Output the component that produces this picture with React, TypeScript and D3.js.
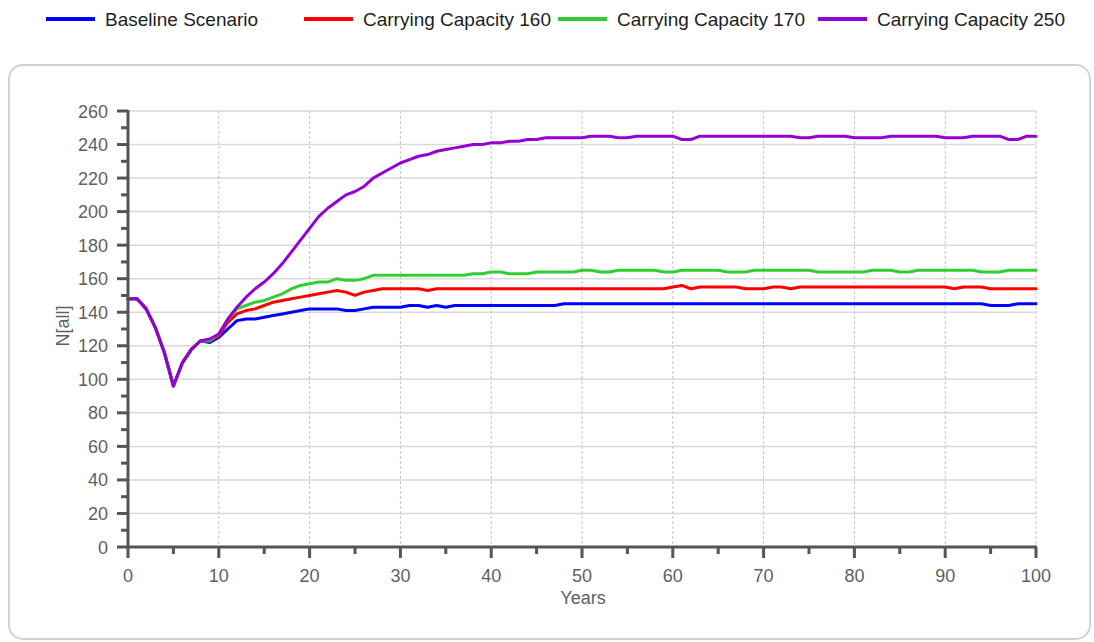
import React from 'react';
import * as d3 from 'd3';

// Simulation output: total population N[all] per year, 0..100
const baseline = [
  148,148,142,131,116,96,110,118,123,122,
  125,130,135,136,136,137,138,139,140,141,
  142,142,142,142,141,141,142,143,143,143,
  143,144,144,143,144,143,144,144,144,144,
  144,144,144,144,144,144,144,144,145,145,
  145,145,145,145,145,145,145,145,145,145,
  145,145,145,145,145,145,145,145,145,145,
  145,145,145,145,145,145,145,145,145,145,
  145,145,145,145,145,145,145,145,145,145,
  145,145,145,145,145,144,144,144,145,145,
  145,
];

const capacity160 = [
  148,148,142,131,116,96,110,118,123,123,
  126,134,139,141,142,144,146,147,148,149,
  150,151,152,153,152,150,152,153,154,154,
  154,154,154,153,154,154,154,154,154,154,
  154,154,154,154,154,154,154,154,154,154,
  154,154,154,154,154,154,154,154,154,154,
  155,156,154,155,155,155,155,155,154,154,
  154,155,155,154,155,155,155,155,155,155,
  155,155,155,155,155,155,155,155,155,155,
  155,154,155,155,155,154,154,154,154,154,
  154,
];

const capacity170 = [
  148,148,142,131,116,96,110,118,123,123,
  127,136,142,144,146,147,149,151,154,156,
  157,158,158,160,159,159,160,162,162,162,
  162,162,162,162,162,162,162,162,163,163,
  164,164,163,163,163,164,164,164,164,164,
  165,165,164,164,165,165,165,165,165,164,
  164,165,165,165,165,165,164,164,164,165,
  165,165,165,165,165,165,164,164,164,164,
  164,164,165,165,165,164,164,165,165,165,
  165,165,165,165,164,164,164,165,165,165,
  165,
];

const capacity250 = [
  148,148,142,131,116,96,110,118,123,124,
  127,136,143,149,154,158,163,169,176,183,
  190,197,202,206,210,212,215,220,223,226,
  229,231,233,234,236,237,238,239,240,240,
  241,241,242,242,243,243,244,244,244,244,
  244,245,245,245,244,244,245,245,245,245,
  245,243,243,245,245,245,245,245,245,245,
  245,245,245,245,244,244,245,245,245,245,
  244,244,244,244,245,245,245,245,245,245,
  244,244,244,245,245,245,245,243,243,245,
  245,
];

const seriesNames = ['Baseline Scenario', 'Carrying Capacity 160', 'Carrying Capacity 170', 'Carrying Capacity 250'];
const seriesColors = ['#0000ff', '#ff0000', '#32cd32', '#9400d3'];
const seriesValues = [baseline, capacity160, capacity170, capacity250];

const xTicks = [0, 10, 20, 30, 40, 50, 60, 70, 80, 90, 100];
const yTicks = [0, 20, 40, 60, 80, 100, 120, 140, 160, 180, 200, 220, 240, 260];

const legendLineX = [46, 304, 558, 818];

export default function App() {
  const x = d3.scaleLinear().domain([0, 100]).range([128, 1036]);
  const y = d3.scaleLinear().domain([0, 260]).range([547, 111]);

  const line = d3
    .line<number>()
    .x((_, i) => x(i))
    .y((d) => y(d));

  const xMinor = d3.range(0, 101, 5);
  const yMinor = d3.range(0, 261, 10);

  const font = 'Liberation Sans, Arial, sans-serif';
  const axisColor = '#555555';
  const labelColor = '#5f5f5f';

  return (
    <svg
      width={1094}
      height={642}
      style={{ position: 'absolute', left: 0, top: 0, background: '#ffffff' }}
      fontFamily={font}
    >
      {/* legend */}
      {seriesNames.map((name, i) => (
        <g key={name}>
          <line
            x1={legendLineX[i]}
            x2={legendLineX[i] + 49}
            y1={19}
            y2={19}
            stroke={seriesColors[i]}
            strokeWidth={4}
          />
          <text x={legendLineX[i] + 59} y={25.5} fontSize={19} fill="#1e1e1e">
            {name}
          </text>
        </g>
      ))}

      {/* chart panel */}
      <rect x={9} y={65} width={1081} height={574} rx={14} ry={14} fill="#ffffff" stroke="#d2d2d2" strokeWidth={2} />

      {/* grid */}
      {yTicks.filter((t) => t > 0).map((t) => (
        <line key={'gy' + t} x1={x(0)} x2={x(100)} y1={y(t)} y2={y(t)} stroke="#d9d9d9" strokeWidth={1.5} />
      ))}
      {xTicks.filter((t) => t > 0).map((t) => (
        <line
          key={'gx' + t}
          x1={x(t)}
          x2={x(t)}
          y1={y(260)}
          y2={y(0)}
          stroke="#c4c4c4"
          strokeWidth={1}
          strokeDasharray="3,2"
        />
      ))}

      {/* series */}
      {seriesValues.map((vals, i) => (
        <path
          key={seriesNames[i]}
          d={line(vals) || ''}
          fill="none"
          stroke={seriesColors[i]}
          strokeWidth={3}
          strokeLinejoin="round"
          strokeLinecap="round"
        />
      ))}

      {/* y axis */}
      <line x1={x(0)} x2={x(0)} y1={y(0) + 1.5} y2={y(260) - 1} stroke={axisColor} strokeWidth={3} />
      {yMinor.map((t) => (
        <line
          key={'yt' + t}
          x1={t % 20 === 0 ? x(0) - 11 : x(0) - 7}
          x2={x(0)}
          y1={y(t)}
          y2={y(t)}
          stroke={axisColor}
          strokeWidth={3}
        />
      ))}
      {yTicks.map((t) => (
        <text key={'yl' + t} x={108} y={y(t) + 6.5} fontSize={18} fill={labelColor} textAnchor="end">
          {t}
        </text>
      ))}

      {/* x axis */}
      <line x1={x(0) - 1.5} x2={x(100) + 1} y1={y(0)} y2={y(0)} stroke={axisColor} strokeWidth={3} />
      {xMinor.map((t) => (
        <line
          key={'xt' + t}
          x1={x(t)}
          x2={x(t)}
          y1={y(0)}
          y2={t % 10 === 0 ? y(0) + 11 : y(0) + 7}
          stroke={axisColor}
          strokeWidth={3}
        />
      ))}
      {xTicks.map((t) => (
        <text key={'xl' + t} x={x(t)} y={582} fontSize={18} fill={labelColor} textAnchor="middle">
          {t}
        </text>
      ))}

      {/* axis titles */}
      <text x={583} y={604} fontSize={18} fill={labelColor} textAnchor="middle">
        Years
      </text>
      <text
        transform={`translate(69, 326) rotate(-90)`}
        fontSize={18}
        fill={labelColor}
        textAnchor="middle"
      >
        N[all]
      </text>
    </svg>
  );
}
